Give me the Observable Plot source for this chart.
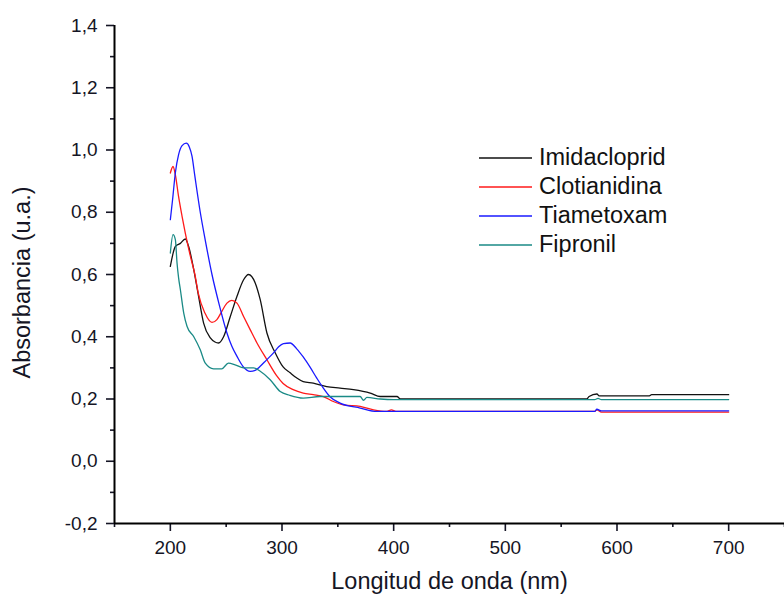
<!DOCTYPE html>
<html><head><meta charset="utf-8">
<script src="https://cdn.jsdelivr.net/npm/d3@7"></script>
<script src="https://cdn.jsdelivr.net/npm/@observablehq/plot@0.6"></script>
<style>
body{margin:0;background:#fff;}
#wrap{position:relative;width:784px;height:599px;font-family:"Liberation Sans",Arial,sans-serif;}
#legend{position:absolute;left:479px;top:143px;}
.row{display:flex;align-items:center;height:29px;}
.row svg{margin-right:7px;display:block;}
.lab{font-size:23.5px;color:#111;line-height:29px;}
</style></head><body><div id="wrap"><div id="legend"></div></div>
<script>
const seriesNames = ["Imidacloprid", "Clotianidina", "Tiametoxam", "Fipronil"];
const seriesColors = ["#111111", "#ff1a1a", "#1a1aff", "#1a8a86"];
const xTitle = "Longitud de onda (nm)";
const yTitle = "Absorbancia (u.a.)";

const imiWl  = [200,204.5,209,213.4,216.4,221,225.3,229.8,235.8,240,243.2,247.7,253.7,259.7,265.6,270,276,280.5,286.5,294,301,307,313,319,328,340,352,364,379,388,403,406,573,575,582,584,629,631,700];
const imiAbs = [0.626,0.69,0.70,0.714,0.69,0.615,0.53,0.444,0.396,0.383,0.38,0.40,0.465,0.53,0.583,0.60,0.573,0.519,0.412,0.348,0.303,0.285,0.268,0.256,0.251,0.24,0.235,0.23,0.219,0.208,0.208,0.200,0.200,0.208,0.216,0.21,0.21,0.214,0.214];

const cloWl  = [200,202.4,204.5,207.4,210.5,213.4,218,222,225,231,237.3,241.7,246,250.7,255,259.7,265.6,271.6,277.6,286.5,295,301,310,319,328,337,346,355,370,382,394,398,402,580,582,586,700];
const cloAbs = [0.926,0.947,0.92,0.85,0.787,0.733,0.658,0.60,0.54,0.476,0.446,0.455,0.481,0.508,0.517,0.508,0.465,0.422,0.38,0.326,0.276,0.25,0.23,0.219,0.214,0.208,0.192,0.181,0.176,0.165,0.16,0.165,0.16,0.16,0.165,0.158,0.158];

const tiaWl  = [200,202,204.5,207.4,210.5,214.3,217,219.4,222,226.8,231.3,237.3,244,250.7,255,259.7,265,271.6,276,280.5,286,292.4,297,301.3,307.3,313,319,325,331,337,343,352,370,385,580,582,586,700];
const tiaAbs = [0.776,0.84,0.927,0.985,1.014,1.022,1.01,0.98,0.915,0.80,0.71,0.60,0.50,0.412,0.37,0.337,0.305,0.289,0.292,0.305,0.325,0.348,0.368,0.378,0.38,0.362,0.335,0.303,0.268,0.235,0.207,0.187,0.171,0.16,0.16,0.167,0.162,0.162];

const fipWl  = [200,202.4,204.5,206,207.4,209,212,215,221,226.8,231.3,238.7,246,252,258,265.6,274.5,280.5,289.4,298.4,307,319,334,349,370,373,376,388,400,580,583,586,700];
const fipAbs = [0.669,0.728,0.712,0.637,0.589,0.551,0.476,0.433,0.40,0.358,0.315,0.297,0.297,0.315,0.31,0.30,0.30,0.289,0.262,0.224,0.212,0.203,0.208,0.208,0.208,0.196,0.205,0.2,0.198,0.198,0.202,0.198,0.198];

const xMajorTicks = [200,300,400,500,600,700];
const xMinorTicks = [150,250,350,450,550,650,750];
const yMajorTicks = [-0.2,0,0.2,0.4,0.6,0.8,1.0,1.2,1.4];
const yMinorTicks = [-0.1,0.1,0.3,0.5,0.7,0.9,1.1,1.3];

const allWl = [imiWl, cloWl, tiaWl, fipWl];
const allAbs = [imiAbs, cloAbs, tiaAbs, fipAbs];
const rows = [];
seriesNames.forEach((s, i) => allWl[i].forEach((w, j) => rows.push({series: s, wl: w, abs: allAbs[i][j]})));

const fmt = d => d.toFixed(1).replace(".", ",");

const chart = Plot.plot({
  width: 784, height: 599,
  marginLeft: 114, marginRight: 0, marginTop: 25, marginBottom: 76,
  style: {fontFamily: "Liberation Sans, Arial, sans-serif", fontSize: "19px", color: "#151525", background: "white", overflow: "visible"},
  x: {domain: [150, 750]},
  y: {domain: [-0.2, 1.4]},
  color: {domain: seriesNames, range: seriesColors},
  marks: [
    Plot.axisX(xMinorTicks, {tickSize: 4, tickFormat: () => "", label: null, strokeWidth: 1.6}),
    Plot.axisX(xMajorTicks, {tickSize: 8, tickPadding: 9, tickFormat: d => String(d), label: null, strokeWidth: 1.6, fontSize: 19}),
    Plot.axisY(yMinorTicks, {tickSize: 4, tickFormat: () => "", label: null, strokeWidth: 1.6}),
    Plot.axisY(yMajorTicks, {tickSize: 8, tickPadding: 9, tickFormat: fmt, label: null, strokeWidth: 1.6, fontSize: 19}),
    Plot.ruleX([150], {stroke: "black", strokeWidth: 2}),
    Plot.ruleY([-0.2], {stroke: "black", strokeWidth: 2}),
    Plot.text([xTitle], {text: d => d, frameAnchor: "bottom", dy: 58, lineAnchor: "middle", textAnchor: "middle", fontSize: 23.5, fill: "#151525"}),
    Plot.text([yTitle], {text: d => d, frameAnchor: "left", dx: -92, dy: 8, rotate: -90, textAnchor: "middle", lineAnchor: "middle", fontSize: 23.5, fill: "#151525"}),
    Plot.line(rows, {x: "wl", y: "abs", z: "series", stroke: "series", curve: "monotone-x", strokeWidth: 1.3})
  ]
});
document.getElementById("wrap").appendChild(chart);

const legend = document.getElementById("legend");
const svgNS = "http://www.w3.org/2000/svg";
seriesNames.forEach((s, i) => {
  const r = document.createElement("div"); r.className = "row";
  const sv = document.createElementNS(svgNS, "svg");
  sv.setAttribute("width", "53"); sv.setAttribute("height", "6");
  const ln = document.createElementNS(svgNS, "line");
  ln.setAttribute("x1", "0"); ln.setAttribute("x2", "53"); ln.setAttribute("y1", "3"); ln.setAttribute("y2", "3");
  ln.setAttribute("stroke", seriesColors[i]); ln.setAttribute("stroke-width", "1.4");
  sv.appendChild(ln);
  const lb = document.createElement("span"); lb.className = "lab"; lb.textContent = s;
  r.appendChild(sv); r.appendChild(lb); legend.appendChild(r);
});
</script></body></html>
